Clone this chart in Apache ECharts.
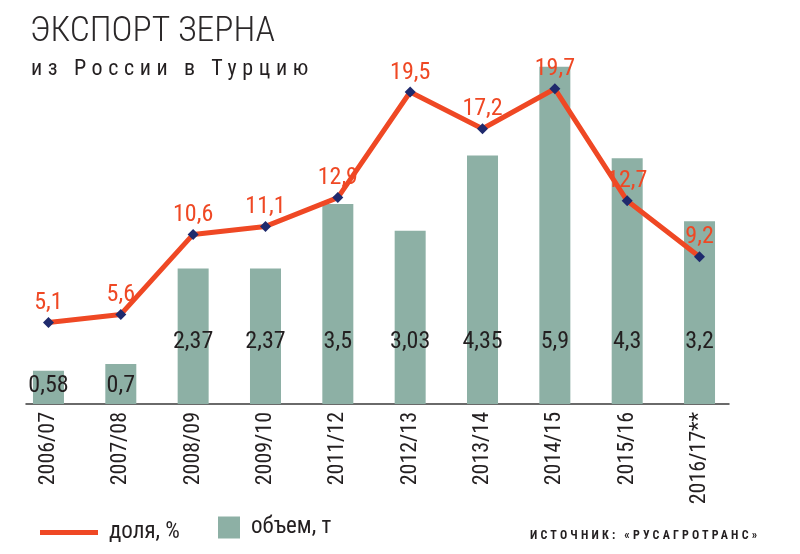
<!DOCTYPE html>
<html>
<head>
<meta charset="utf-8">
<script src="https://cdn.jsdelivr.net/npm/echarts@6/dist/echarts.min.js"></script>
<style>html,body{margin:0;padding:0;background:#fff}#c{width:800px;height:554px}</style>
</head>
<body>
<div id="c"></div>
<script>
const categories = ['2006/07','2007/08','2008/09','2009/10','2011/12','2012/13','2013/14','2014/15','2015/16','2016/17**'];
const shareValues = [5.1, 5.6, 10.6, 11.1, 12.9, 19.5, 17.2, 19.7, 12.7, 9.2];
const volumeValues = [0.58, 0.7, 2.37, 2.37, 3.5, 3.03, 4.35, 5.9, 4.3, 3.2];
const titleText = 'ЭКСПОРТ ЗЕРНА';
const subtitleText = 'из России в Турцию';
const sourceText = 'ИСТОЧНИК: «РУСАГРОТРАНС»';
const shareName = 'доля, %';
const volumeName = 'объем, т';

// letter spacing for the spaced-out subtitle and source line (canvas letterSpacing)
const spacing = {};
spacing[subtitleText] = '5.6px';
spacing[sourceText] = '3.2px';
const origFill = CanvasRenderingContext2D.prototype.fillText;
CanvasRenderingContext2D.prototype.fillText = function (t, x, y, m) {
  if (spacing[t] && 'letterSpacing' in this) {
    const prev = this.letterSpacing;
    this.letterSpacing = spacing[t];
    const r = m === undefined ? origFill.call(this, t, x, y) : origFill.call(this, t, x, y, m);
    this.letterSpacing = prev;
    return r;
  }
  return m === undefined ? origFill.call(this, t, x, y) : origFill.call(this, t, x, y, m);
};

const NARROW = '"Roboto Condensed", "Liberation Sans Narrow", "DejaVu Sans Condensed", sans-serif';
const RED = '#ef4824';
const TEAL = '#8db0a5';
const NAVY = '#1f2a6d';
const DARK = '#231f20';
const fmt = v => String(v).replace('.', ',');

const chart = echarts.init(document.getElementById('c'), null, {renderer: 'canvas'});
chart.setOption({
  animation: false,
  backgroundColor: '#fff',
  title: [
    {text: titleText, left: 25, top: 9, textStyle: {fontFamily: NARROW, fontSize: 35.5, fontWeight: 300, color: '#2b2829'}},
    {text: subtitleText, left: 26, top: 53, textStyle: {fontFamily: NARROW, fontSize: 22, fontWeight: 'normal', color: DARK}},
    {text: sourceText, left: 525, top: 525, textStyle: {fontFamily: NARROW, fontSize: 12, fontWeight: 'bold', color: DARK}}
  ],
  legend: [
    {data: [{name: shareName, icon: 'rect', itemStyle: {color: RED}}], left: 35, top: 516, itemWidth: 58, itemHeight: 5,
     textStyle: {fontFamily: NARROW, fontSize: 23, color: DARK, padding: [0,0,0,6]}},
    {data: [{name: volumeName, icon: 'rect'}], left: 213, top: 511, itemWidth: 22, itemHeight: 22,
     textStyle: {fontFamily: NARROW, fontSize: 23, color: DARK, padding: [0,0,0,6]}}
  ],
  grid: [
    {left: 12.3, right: 64.3, top: 4, height: 400},
    {left: 26, right: 71, top: 4, height: 400}
  ],
  xAxis: [
    {type: 'category', gridIndex: 0, data: categories, axisLine: {show: false}, axisTick: {show: false},
     axisLabel: {rotate: 90, margin: 8, fontFamily: NARROW, fontSize: 22, color: DARK, interval: 0}},
    {type: 'value', gridIndex: 1, min: 0, max: 1, axisLine: {show: true, onZero: false, lineStyle: {color: '#3a3a3a', width: 1.5}},
     axisTick: {show: false}, axisLabel: {show: false}, splitLine: {show: false}}
  ],
  yAxis: [
    {type: 'value', gridIndex: 0, min: 0, max: 7, show: false, splitLine: {show: false}},
    {type: 'value', gridIndex: 0, min: 0, max: 25, show: false, splitLine: {show: false}},
    {type: 'value', gridIndex: 1, min: 0, max: 1, show: false, splitLine: {show: false}}
  ],
  series: [
    {name: volumeName, type: 'bar', xAxisIndex: 0, yAxisIndex: 0, barWidth: 31, itemStyle: {color: TEAL},
     data: volumeValues.map(v => ({value: v, label: {distance: v < 1 ? 6 : 50}})),
     label: {show: true, position: 'insideBottom', fontFamily: NARROW, fontSize: 24, color: DARK, formatter: p => fmt(p.value)}},
    {name: shareName, type: 'line', xAxisIndex: 0, yAxisIndex: 1, data: shareValues, z: 5,
     lineStyle: {color: RED, width: 5}, itemStyle: {color: NAVY, borderWidth: 0},
     symbol: 'diamond', symbolSize: 11, showAllSymbol: true,
     label: {show: true, position: 'top', distance: 2, fontFamily: NARROW, fontSize: 24, color: RED, formatter: p => fmt(p.value)}}
  ]
});
</script>
</body>
</html>
